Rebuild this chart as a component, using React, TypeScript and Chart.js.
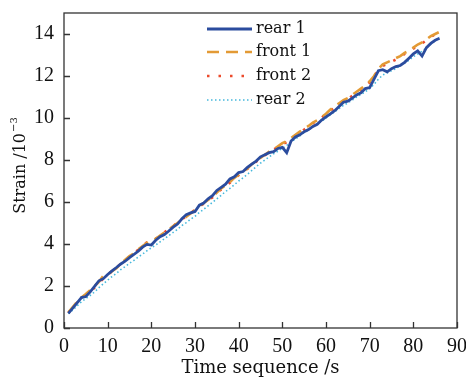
import React, { useEffect, useRef } from 'react';
import { Chart, registerables } from 'chart.js';
Chart.register(...registerables);

const seconds = [1, 2, 3, 4, 5, 6, 7, 8, 9, 10, 11, 12, 13, 14, 15, 16, 17, 18, 19, 20, 21, 22, 23, 24, 25, 26, 27, 28, 29, 30, 31, 32, 33, 34, 35, 36, 37, 38, 39, 40, 41, 42, 43, 44, 45, 46, 47, 48, 49, 50, 51, 52, 53, 54, 55, 56, 57, 58, 59, 60, 61, 62, 63, 64, 65, 66, 67, 68, 69, 70, 71, 72, 73, 74, 75, 76, 77, 78, 79, 80, 81, 82, 83, 84, 85, 86];

const rear1 = [0.70, 0.95, 1.20, 1.45, 1.50, 1.72, 1.98, 2.25, 2.35, 2.55, 2.72, 2.88, 3.05, 3.18, 3.35, 3.50, 3.66, 3.85, 3.98, 3.95, 4.18, 4.35, 4.45, 4.62, 4.80, 4.95, 5.20, 5.40, 5.48, 5.55, 5.85, 5.95, 6.15, 6.30, 6.55, 6.70, 6.85, 7.10, 7.20, 7.40, 7.45, 7.65, 7.80, 7.95, 8.15, 8.25, 8.35, 8.40, 8.55, 8.60, 8.35, 8.90, 9.10, 9.20, 9.35, 9.45, 9.60, 9.70, 9.90, 10.05, 10.20, 10.35, 10.55, 10.75, 10.80, 10.95, 11.10, 11.20, 11.40, 11.45, 11.85, 12.25, 12.30, 12.20, 12.35, 12.45, 12.50, 12.65, 12.85, 13.05, 13.20, 12.95, 13.35, 13.55, 13.70, 13.80];

const front1 = [0.75, 1.00, 1.25, 1.45, 1.62, 1.80, 2.00, 2.20, 2.48, 2.55, 2.70, 2.85, 3.05, 3.25, 3.42, 3.55, 3.75, 3.90, 4.05, 4.15, 4.25, 4.40, 4.55, 4.70, 4.85, 5.00, 5.15, 5.30, 5.45, 5.60, 5.80, 5.95, 6.10, 6.25, 6.45, 6.65, 6.80, 6.95, 7.15, 7.30, 7.45, 7.60, 7.80, 7.95, 8.10, 8.25, 8.40, 8.50, 8.65, 8.80, 8.90, 9.05, 9.20, 9.35, 9.50, 9.62, 9.78, 9.90, 10.05, 10.20, 10.40, 10.55, 10.70, 10.85, 10.95, 11.10, 11.25, 11.40, 11.55, 11.75, 12.00, 12.35, 12.55, 12.65, 12.75, 12.85, 12.95, 13.10, 13.20, 13.35, 13.50, 13.60, 13.75, 13.90, 14.00, 14.10];

const front2 = [0.72, 0.98, 1.22, 1.40, 1.55, 1.72, 1.92, 2.15, 2.35, 2.55, 2.70, 2.88, 3.05, 3.22, 3.40, 3.58, 3.72, 3.88, 4.08, 4.12, 4.25, 4.42, 4.55, 4.72, 4.85, 5.02, 5.18, 5.32, 5.48, 5.62, 5.78, 5.92, 6.10, 6.22, 6.42, 6.60, 6.75, 6.92, 7.10, 7.28, 7.42, 7.58, 7.75, 7.92, 8.08, 8.22, 8.38, 8.50, 8.62, 8.75, 8.85, 9.02, 9.18, 9.32, 9.45, 9.60, 9.75, 9.88, 10.02, 10.18, 10.35, 10.50, 10.65, 10.80, 10.92, 11.05, 11.20, 11.35, 11.52, 11.70, 11.95, 12.30, 12.48, 12.58, 12.68, 12.78, 12.90, 13.05, 13.15, 13.30, 13.45, 13.55, 13.70, 13.85, 14.00, 14.15];

const rear2 = [0.68, 0.85, 1.05, 1.25, 1.40, 1.55, 1.72, 1.92, 2.10, 2.28, 2.45, 2.60, 2.78, 2.92, 3.08, 3.22, 3.38, 3.52, 3.68, 3.82, 3.95, 4.10, 4.25, 4.40, 4.55, 4.70, 4.88, 5.02, 5.18, 5.32, 5.50, 5.65, 5.82, 5.98, 6.15, 6.32, 6.50, 6.65, 6.82, 7.00, 7.15, 7.32, 7.50, 7.68, 7.85, 8.00, 8.15, 8.30, 8.42, 8.55, 8.70, 8.85, 9.00, 9.15, 9.30, 9.42, 9.58, 9.72, 9.85, 10.00, 10.15, 10.30, 10.45, 10.60, 10.72, 10.85, 11.00, 11.12, 11.25, 11.40, 11.60, 11.85, 12.05, 12.15, 12.25, 12.35, 12.50, 12.62, 12.75, 12.92, 13.05, 13.18, 13.35, 13.52, 13.68, 13.85];

const seriesNames = ['rear 1', 'front 1', 'front 2', 'rear 2'];
const xTicks = [0, 10, 20, 30, 40, 50, 60, 70, 80, 90];
const yTicks = [0, 2, 4, 6, 8, 10, 12, 14];
const xTitle = 'Time sequence /s';
const yTitleMain = 'Strain /10';
const yTitleSup = '\u22123';

const FONT = '"DejaVu Serif", serif';
const TICK_FONT = '"Liberation Serif", serif';
const INK = '#111';

const styles = [
  { color: '#2b4c9e', width: 2.8, dash: [] as number[] },
  { color: '#e39a35', width: 2.6, dash: [12, 7] },
  { color: '#ec4b2c', width: 2.6, dash: [2.5, 9] },
  { color: '#46b8dc', width: 1.6, dash: [1.5, 2.5] },
];

const decorPlugin = {
  id: 'decor',
  afterDraw(chart: any) {
    const { ctx, chartArea: a, scales } = chart;
    ctx.save();
    ctx.strokeStyle = '#333';
    ctx.lineWidth = 1.3;
    ctx.setLineDash([]);
    ctx.strokeRect(a.left, a.top, a.right - a.left, a.bottom - a.top);
    ctx.beginPath();
    for (const v of xTicks) {
      const px = Math.round(scales.x.getPixelForValue(v)) + 0.5;
      ctx.moveTo(px, a.bottom);
      ctx.lineTo(px, a.bottom - 6);
    }
    for (const v of yTicks) {
      const py = Math.round(scales.y.getPixelForValue(v)) + 0.5;
      ctx.moveTo(a.left, py);
      ctx.lineTo(a.left + 6, py);
    }
    ctx.stroke();

    // legend
    const lx0 = 207, lx1 = 252, tx = 256, rowY = [29, 52, 76, 100];
    ctx.font = `16px ${FONT}`;
    ctx.textBaseline = 'middle';
    ctx.textAlign = 'left';
    styles.forEach((s, i) => {
      ctx.beginPath();
      ctx.strokeStyle = s.color;
      ctx.lineWidth = s.width;
      ctx.setLineDash(s.dash);
      ctx.moveTo(lx0, rowY[i]);
      ctx.lineTo(lx1, rowY[i]);
      ctx.stroke();
      ctx.setLineDash([]);
      ctx.fillStyle = INK;
      ctx.fillText(seriesNames[i], tx, rowY[i]);
    });

    // x title
    ctx.fillStyle = INK;
    ctx.font = `18px ${FONT}`;
    ctx.textAlign = 'center';
    ctx.textBaseline = 'alphabetic';
    ctx.fillText(xTitle, (a.left + a.right) / 2, 373);

    // y title
    ctx.translate(19, 166);
    ctx.rotate(-Math.PI / 2);
    ctx.font = `16px ${FONT}`;
    const w1 = ctx.measureText(yTitleMain).width;
    ctx.font = `10px ${FONT}`;
    const w2 = ctx.measureText(yTitleSup).width;
    const start = -(w1 + w2) / 2;
    ctx.textAlign = 'left';
    ctx.textBaseline = 'alphabetic';
    ctx.font = `16px ${FONT}`;
    ctx.fillText(yTitleMain, start, 6);
    ctx.font = `10px ${FONT}`;
    ctx.fillText(yTitleSup, start + w1 + 1, -2);
    ctx.restore();
  },
};

export default function App() {
  const ref = useRef<HTMLCanvasElement>(null);
  useEffect(() => {
    if (!ref.current) return;
    const mk = (vals: number[]) => seconds.map((x, i) => ({ x, y: vals[i] }));
    const all = [rear1, front1, front2, rear2];
    const chart = new Chart(ref.current, {
      type: 'line',
      data: {
        datasets: all.map((vals, i) => ({
          label: seriesNames[i],
          data: mk(vals),
          borderColor: styles[i].color,
          borderWidth: styles[i].width,
          borderDash: styles[i].dash,
          pointRadius: 0,
          tension: 0,
          fill: false,
        })),
      },
      options: {
        responsive: false,
        animation: false,
        layout: { padding: { top: 13, right: 9, left: 0, bottom: 0 } },
        plugins: { legend: { display: false }, tooltip: { enabled: false } },
        scales: {
          x: {
            type: 'linear',
            min: 0,
            max: 90,
            grid: { display: false, drawTicks: false },
            border: { display: false },
            afterBuildTicks: (s: any) => { s.ticks = xTicks.map((v) => ({ value: v })); },
            afterFit: (s: any) => { s.height = 50; s.paddingLeft = 0; s.paddingRight = 0; },
            ticks: { autoSkip: false, maxRotation: 0, padding: 7, color: INK, font: { family: TICK_FONT, size: 20 } },
          },
          y: {
            type: 'linear',
            min: 0,
            max: 15,
            grid: { display: false, drawTicks: false },
            border: { display: false },
            afterBuildTicks: (s: any) => { s.ticks = yTicks.map((v) => ({ value: v })); },
            afterFit: (s: any) => { s.width = 64; s.paddingTop = 0; s.paddingBottom = 0; },
            ticks: { autoSkip: false, padding: 10, color: INK, font: { family: TICK_FONT, size: 20 } },
          },
        },
      },
      plugins: [decorPlugin],
    });
    return () => chart.destroy();
  }, []);
  return (
    <div style={{ position: 'fixed', left: 0, top: 0, width: 466, height: 378, background: '#fff' }}>
      <canvas ref={ref} width={466} height={378} />
    </div>
  );
}
